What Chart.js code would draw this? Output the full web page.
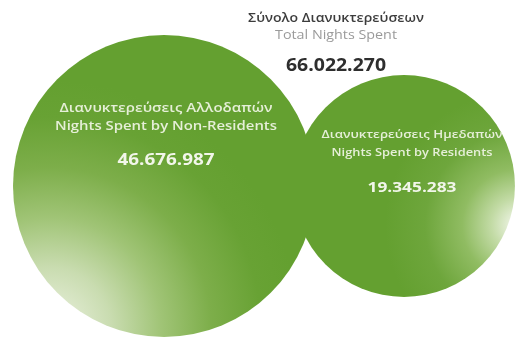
<!DOCTYPE html>
<html>
<head>
<meta charset="utf-8">
<script src="https://cdn.jsdelivr.net/npm/chart.js@4.4.1/dist/chart.umd.min.js"></script>
<style>
  html, body { margin: 0; padding: 0; background: #ffffff; }
  #wrap { width: 515px; height: 340px; }
</style>
</head>
<body>
<div id="wrap"><canvas id="c" width="515" height="340"></canvas></div>
<script>
// Nights spent, split by residence of guests
const categoriesEl = ["Διανυκτερεύσεις Αλλοδαπών", "Διανυκτερεύσεις Ημεδαπών"];
const categoriesEn = ["Nights Spent by Non-Residents", "Nights Spent by Residents"];
const nightsSpent = [46676987, 19345283];
const totalTitleEl = "Σύνολο Διανυκτερεύσεων";
const totalTitleEn = "Total Nights Spent";

const totalNights = nightsSpent.reduce((a, b) => a + b, 0);

// Greek-style thousands separator
function fmt(n) {
  return String(n).replace(/\B(?=(\d{3})+(?!\d))/g, ".");
}

// Bubble radius grows with the value (softened power curve)
const maxValue = Math.max(...nightsSpent);
const bubbleRadius = v => 151 * Math.pow(v / maxValue, 0.35);

const bubbleData = nightsSpent.map((v, i) => ({ x: i, y: 0, r: bubbleRadius(v) }));

const GREEN = '#64a030';

function bubbleFill(context) {
  const chart = context.chart;
  const { ctx, chartArea, scales } = chart;
  if (!chartArea || !context.raw) return GREEN;
  const cx = scales.x.getPixelForValue(context.raw.x);
  const cy = scales.y.getPixelForValue(context.raw.y);
  const r = context.raw.r;
  let g;
  if (context.dataIndex === 0) {
    const hx = cx - 0.76 * r, hy = cy + 0.95 * r;
    g = ctx.createRadialGradient(hx, hy, 0, hx, hy, 1.65 * r);
    g.addColorStop(0.00, '#eef3e4');
    g.addColorStop(0.25, '#c9dcb0');
    g.addColorStop(0.45, '#a0c476');
    g.addColorStop(0.65, '#7dae4a');
    g.addColorStop(0.85, '#68a234');
    g.addColorStop(1.00, GREEN);
  } else {
    const hx = cx + 1.03 * r, hy = cy + 0.35 * r;
    g = ctx.createRadialGradient(hx, hy, 0, hx, hy, 1.2 * r);
    g.addColorStop(0.00, '#f7f9f2');
    g.addColorStop(0.20, '#c3dba6');
    g.addColorStop(0.42, '#90bc62');
    g.addColorStop(0.70, '#6ea63c');
    g.addColorStop(1.00, GREEN);
  }
  return g;
}

// Text squeezed/stretched to an exact width
function fitText(ctx, text, x, y, width, font, color) {
  ctx.save();
  ctx.font = font;
  const w = ctx.measureText(text).width;
  ctx.translate(x, y);
  ctx.scale(width / w, 1);
  ctx.textAlign = 'center';
  ctx.textBaseline = 'middle';
  ctx.fillStyle = color;
  ctx.fillText(text, 0, 0);
  ctx.restore();
}

// Offsets of the labels from each bubble centre: [dy, width]
const labelLayout = [
  { dx: 2, el: [-77, 213], en: [-59, 222], val: [-26, 97], size: 12, valSize: 16 },
  { dx: 8, el: [-51, 181], en: [-33, 161], val: [2, 89], size: 11, valSize: 15 }
];

const labelPlugin = {
  id: 'bubbleLabels',
  afterDatasetsDraw(chart) {
    const ctx = chart.ctx;
    const meta = chart.getDatasetMeta(0);
    meta.data.forEach((el, i) => {
      const L = labelLayout[i];
      const x = el.x + L.dx;
      fitText(ctx, categoriesEl[i], x, el.y + L.el[0], L.el[1], `600 ${L.size}px "Open Sans"`, '#e6efd8');
      fitText(ctx, categoriesEn[i], x, el.y + L.en[0], L.en[1], `600 ${L.size}px "Open Sans"`, '#e6efd8');
      fitText(ctx, fmt(nightsSpent[i]), x, el.y + L.val[0], L.val[1], `bold ${L.valSize}px "Open Sans"`, '#f2f6ea');
    });
    // Total heading above the bubbles
    fitText(ctx, totalTitleEl, 336, 19, 176, '600 12px "Open Sans"', '#3c3c3c');
    fitText(ctx, totalTitleEn, 336, 36, 122, '12px "Open Sans"', '#9a9a9a');
    fitText(ctx, fmt(totalNights), 336, 66, 100, 'bold 18px "Open Sans"', '#2e2e2e');
  }
};

new Chart(document.getElementById('c'), {
  type: 'bubble',
  data: {
    labels: categoriesEn,
    datasets: [{
      data: bubbleData,
      backgroundColor: bubbleFill,
      borderWidth: 0,
      hoverBorderWidth: 0,
      hoverRadius: 0,
      clip: false
    }]
  },
  options: {
    responsive: false,
    devicePixelRatio: 1,
    animation: false,
    events: [],
    layout: { autoPadding: false, padding: { top: 32, left: 0, right: 0, bottom: 0 } },
    plugins: {
      legend: { display: false },
      tooltip: { enabled: false },
      title: { display: false }
    },
    scales: {
      x: { type: 'linear', display: false, min: -0.6833, max: 1.4625 },
      y: { type: 'linear', display: false, min: -1, max: 1 }
    }
  },
  plugins: [labelPlugin]
});
</script>
</body>
</html>
